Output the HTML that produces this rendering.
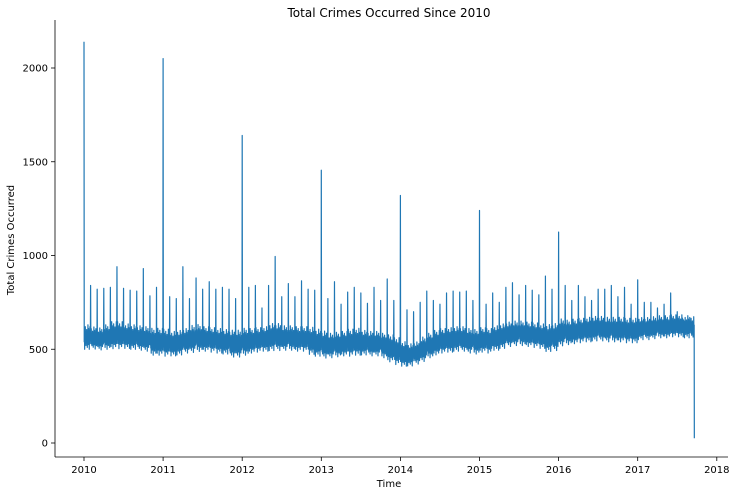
<!DOCTYPE html>
<html><head><meta charset="utf-8"><style>
body{margin:0;background:#fff;}
svg{display:block;font-family:"DejaVu Sans","Liberation Sans",sans-serif;}
</style></head><body>
<svg id="chart" width="737" height="496">
<text x="389" y="17" text-anchor="middle" font-size="12">Total Crimes Occurred Since 2010</text>
<text transform="translate(14,240) rotate(-90)" text-anchor="middle" font-size="10">Total Crimes Occurred</text>
<text x="389" y="487" text-anchor="middle" font-size="10">Time</text>
<g id="axes"></g>
<path id="series" fill="none" stroke="#1f77b4" stroke-width="1.2" stroke-linejoin="round"></path>
</svg>
<script>
// monthly first-of-month spike values, Jan 2010 .. Sep 2017
const spikes = [2140,840,820,825,830,940,825,815,810,930,785,830,
2050,780,770,940,770,880,820,860,820,830,820,770,
1640,830,840,720,840,995,780,850,780,865,820,815,
1455,770,860,740,805,830,800,745,830,760,875,760,
1320,710,700,750,810,760,740,800,810,805,810,760,
1240,740,800,750,830,855,790,840,815,790,890,820,
1125,840,760,840,780,760,820,820,840,780,830,740,
870,750,750,720,740,800,700,650,630];
// monthly typical daily level
const levels = [565,560,555,565,575,575,570,565,560,555,540,540,
535,530,535,545,555,560,555,550,545,540,530,530,
540,545,550,555,565,565,560,560,555,555,545,535,
525,520,525,530,535,540,535,530,530,520,505,490,
475,470,480,500,520,535,545,550,555,555,545,540,
550,545,560,570,580,585,585,580,575,570,560,565,
590,590,595,600,605,610,610,605,605,605,600,600,
610,610,615,620,620,625,625,620,615];
// monthly half-range of daily noise
const ranges = [50,45,45,50,55,55,50,50,50,50,55,55,
55,50,50,50,55,55,50,50,50,50,55,55,
55,50,50,50,55,55,50,50,50,50,55,55,
55,50,50,50,55,55,50,50,50,50,55,55,
50,45,45,50,50,50,50,50,50,50,50,50,
50,50,50,50,50,50,50,50,50,50,55,55,
55,50,50,50,50,50,50,50,50,50,50,50,
45,45,45,45,45,45,45,45,45];
const finalValue = 25;
const yTicks = [0,500,1000,1500,2000];
const xTicks = [2010,2011,2012,2013,2014,2015,2016,2017,2018];

const ns="http://www.w3.org/2000/svg";
const x = yr => 84 + (yr-2010)*79.1;
const y = v => 443 - v*0.1875;
const axes=document.getElementById('axes');
function mk(tag,attrs,parent){const e=document.createElementNS(ns,tag);for(const k in attrs)e.setAttribute(k,attrs[k]);(parent||axes).appendChild(e);return e;}
const ys=mk('line',{x1:55,y1:20,x2:55,y2:457,stroke:'#000','stroke-width':0.8});


const xs=mk('line',{x1:55,y1:457,x2:728,y2:457,stroke:'#000','stroke-width':0.8});


yTicks.forEach(t=>{
 mk('line',{x1:51,x2:55,y1:y(t),y2:y(t),stroke:'#000','stroke-width':0.8});
 const tx=mk('text',{x:48,y:y(t)+3.5,'text-anchor':'end','font-size':10});
 tx.textContent=t;
 
 
});
xTicks.forEach(t=>{
 mk('line',{x1:x(t),x2:x(t),y1:457,y2:461,stroke:'#000','stroke-width':0.8});
 const tx=mk('text',{x:x(t),y:473,'text-anchor':'middle','font-size':10});
 tx.textContent=t;
 
 
});
const pattern=[0.9,-0.5,0.4,-1.3,0.7,-0.2,1.1,-0.7,0.2,-0.9,0.6,-0.3,0.8,-0.6,0.1,-1.1,0.5,-0.4,1.3,-0.8,0.3];
let d='';
const dayW=79.1/365.25;
for(let m=0;m<spikes.length;m++){
 const yr=2010+Math.floor(m/12), mo=m%12;
 const start=x(yr+mo/12);
 const days=(m===spikes.length-1)?18:30;
 for(let k=0;k<days;k++){
  const v = k===0 ? spikes[m] : levels[m]+ranges[m]*pattern[(k+m*3)%pattern.length];
  const px=start+k*dayW*(365.25/12/30);
  d+=(d?'L':'M')+px.toFixed(2)+','+y(v).toFixed(2);
 }
}
const lastX=x(2010+(spikes.length-1)/12)+18*dayW;
d+='L'+lastX.toFixed(2)+','+y(finalValue).toFixed(2);
document.getElementById('series').setAttribute('d',d);
</script>
</body></html>
